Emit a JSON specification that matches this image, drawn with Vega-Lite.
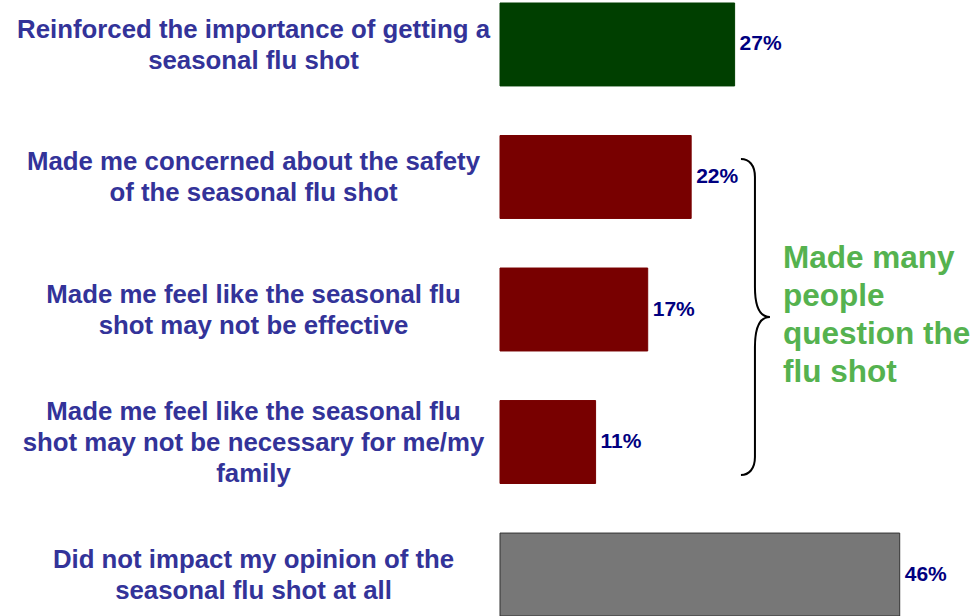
{
  "$schema": "https://vega.github.io/schema/vega-lite/v6.json",
  "autosize": "none",
  "width": 472,
  "height": 613,
  "padding": {"left": 500, "top": 3, "right": 0, "bottom": 0},
  "background": "white",
  "config": {"view": {"stroke": null}},
  "datasets": {
    "bars": [
      {"label": "Reinforced the importance of getting a|seasonal flu shot", "value": 27, "group": "reinforced"},
      {"label": "Made me concerned about the safety|of the seasonal flu shot", "value": 22, "group": "question"},
      {"label": "Made me feel like the seasonal flu|shot may not be effective", "value": 17, "group": "question"},
      {"label": "Made me feel like the seasonal flu|shot may not be necessary for me/my|family", "value": 11, "group": "question"},
      {"label": "Did not impact my opinion of the|seasonal flu shot at all", "value": 46, "group": "none"}
    ],
    "note": [
      {"label": "Made me feel like the seasonal flu|shot may not be effective", "note": "Made many\npeople\nquestion the\nflu shot"}
    ]
  },
  "layer": [
    {
      "data": {"name": "bars"},
      "mark": {"type": "bar", "strokeWidth": 1},
      "encoding": {
        "y": {
          "field": "label", "type": "nominal", "sort": null,
          "scale": {"paddingInner": 0.374, "paddingOuter": 0},
          "axis": {
            "title": null, "ticks": false, "domain": false,
            "labelExpr": "split(datum.label, '|')",
            "labelAlign": "center", "labelPadding": 247, "labelLimit": 0,
            "labelBaseline": "middle",
            "labelOffset": {"condition": {"test": "length(split(datum.value, '|')) > 2", "value": -30}, "value": -14.5},
            "labelFont": "Liberation Sans", "labelFontWeight": "bold",
            "labelFontSize": 25.8, "labelLineHeight": 31, "labelColor": "#333399"
          }
        },
        "x": {"field": "value", "type": "quantitative", "scale": {"domain": [0, 54.32], "nice": false, "zero": true}, "axis": null},
        "fill": {"field": "group", "type": "nominal", "scale": {"domain": ["reinforced", "question", "none"], "range": ["#003f00", "#780000", "#777777"]}, "legend": null},
        "stroke": {"field": "group", "type": "nominal", "scale": {"domain": ["reinforced", "question", "none"], "range": ["#003f00", "#780000", "#333333"]}, "legend": null}
      }
    },
    {
      "data": {"name": "bars"},
      "transform": [{"calculate": "datum.value + '%'", "as": "pct"}],
      "mark": {"type": "text", "align": "left", "baseline": "middle", "dx": 5, "font": "Liberation Sans", "fontWeight": "bold", "fontSize": 21, "color": "#000080"},
      "encoding": {
        "y": {"field": "label", "type": "nominal", "sort": null},
        "x": {"field": "value", "type": "quantitative"},
        "text": {"field": "pct", "type": "nominal"}
      }
    },
    {
      "data": {"name": "note"},
      "mark": {"type": "point", "filled": false, "stroke": "black", "strokeWidth": 2, "opacity": 1, "size": 99856,
        "shape": "M -0.0886 -0.9525 C -0.038 -0.9525 0 -0.9145 0 -0.8385 L 0 -0.1425 C 0 -0.003 0.038 0.0475 0.095 0.0475 C 0.038 0.0475 0 0.098 0 0.2375 L 0 0.9335 C 0 1.0095 -0.038 1.0475 -0.0886 1.0475"},
      "encoding": {
        "y": {"field": "label", "type": "nominal", "sort": null},
        "x": {"datum": 29.34, "type": "quantitative"}
      }
    },
    {
      "data": {"name": "note"},
      "mark": {"type": "text", "align": "left", "baseline": "middle", "lineBreak": "\n", "lineHeight": 38, "dy": -51, "font": "Liberation Sans", "fontWeight": "bold", "fontSize": 31.5, "color": "#55b24f"},
      "encoding": {
        "y": {"field": "label", "type": "nominal", "sort": null},
        "x": {"datum": 32.57, "type": "quantitative"},
        "text": {"field": "note"}
      }
    }
  ]
}
